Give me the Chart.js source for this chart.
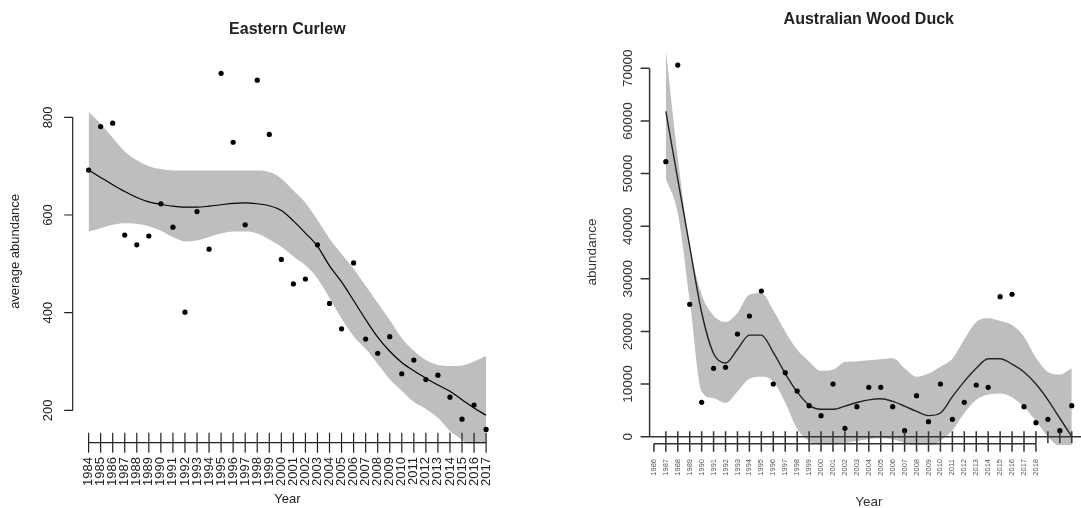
<!DOCTYPE html>
<html>
<head>
<meta charset="utf-8">
<script src="https://cdn.jsdelivr.net/npm/chart.js@4.4.1/dist/chart.umd.min.js"></script>
<style>
  html, body { margin: 0; padding: 0; background: #fff; }
  #wrap { position: relative; width: 1081px; height: 508px; overflow: hidden; }
  #left { position: absolute; left: 0; top: 0; }
  #rightBox { position: absolute; left: 540px; top: 0; width: 541px; height: 508px; overflow: hidden; }
</style>
</head>
<body>
<div id="wrap">
  <canvas id="left" width="540" height="508"></canvas>
  <div id="rightBox"><canvas id="right" width="552" height="508"></canvas></div>
</div>
<script>
// Eastern Curlew (left panel)
const curlewYears = [1984, 1985, 1986, 1987, 1988, 1989, 1990, 1991, 1992, 1993, 1994, 1995,
  1996, 1997, 1998, 1999, 2000, 2001, 2002, 2003, 2004, 2005, 2006, 2007, 2008, 2009, 2010,
  2011, 2012, 2013, 2014, 2015, 2016, 2017];
const curlewAbundance = [692, 781, 788, 559, 539, 557, 623, 575, 401, 607, 530, 890,
  749, 580, 876, 765, 509, 459, 469, 539, 419, 367, 502, 346, 317, 351, 275,
  303, 263, 272, 227, 182, 211, 161];
const curlewTrend = [692, 677, 662, 648, 636, 627, 622, 618, 616, 616, 618, 621,
  624, 625, 623, 619, 609, 588, 563, 536, 496, 463, 425, 386, 350, 321, 298,
  281, 266, 252, 239, 222, 205, 190];
const curlewUpper = [811, 787, 758, 730, 712, 700, 694, 691, 691, 691, 691, 691,
  691, 691, 691, 688, 675, 650, 625, 590, 552, 520, 490, 455, 420, 385, 348,
  322, 303, 293, 291, 292, 300, 312];
const curlewLower = [566, 573, 580, 583, 582, 577, 568, 555, 546, 548, 555, 562,
  566, 566, 562, 550, 535, 515, 497, 470, 430, 388, 352, 326, 295, 264, 240,
  217, 203, 185, 158, 140, 115, 90];
const curlewYTicks = [200, 400, 600, 800];

// Australian Wood Duck (right panel)
const duckYears = [1987, 1988, 1989, 1990, 1991, 1992, 1993, 1994, 1995, 1996, 1997, 1998,
  1999, 2000, 2001, 2002, 2003, 2004, 2005, 2006, 2007, 2008, 2009, 2010, 2011, 2012,
  2013, 2014, 2015, 2016, 2017, 2018, 2019, 2020, 2021];
const duckAbundance = [52250, 70620, 25150, 6530, 12990, 13180, 19510, 22930, 27680, 10010,
  12160, 8680, 5890, 3990, 10010, 1590, 5700, 9380, 9380, 5700, 1140, 7790, 2850, 10010,
  3300, 6530, 9820, 9380, 26600, 27060, 5700, 2660, 3300, 1140, 5890];
const duckTrend = [61800, 48900, 36100, 23600, 15800, 14000, 16600, 19300, 19300, 16000,
  12000, 8500, 6000, 5200, 5200, 5800, 6500, 7000, 7200, 6700, 5800, 4800, 4000, 4500,
  7600, 10500, 13000, 14800, 14800, 13800, 12300, 10000, 7000, 3500, 0];
const duckUpper = [73500, 53000, 36500, 27000, 23000, 21800, 23500, 27000, 27300, 24000,
  20000, 16500, 14300, 12500, 12700, 14200, 14300, 14500, 14700, 14900, 13000, 11400,
  12000, 13300, 14800, 18500, 21800, 22500, 22000, 21200, 19000, 15000, 12300, 11800, 13000];
const duckLower = [49000, 42500, 26000, 8600, 7300, 6400, 8600, 11000, 11400, 10500,
  6500, 1500, -800, -1500, -1500, -1200, -800, -500, -300, -500, -1200, -1800, -2000, -800,
  1200, 4500, 7000, 8000, 8200, 7500, 5600, 3000, 0, -2000, -3000];
const duckLabelYears = [1986, 1987, 1988, 1989, 1990, 1991, 1992, 1993, 1994, 1995, 1996,
  1997, 1998, 1999, 2000, 2001, 2002, 2003, 2004, 2005, 2006, 2007, 2008, 2009, 2010,
  2011, 2012, 2013, 2014, 2015, 2016, 2017, 2018];
const duckYTicks = [0, 10000, 20000, 30000, 40000, 50000, 60000, 70000];

const FONT = '"Liberation Sans", Arial, sans-serif';
const BAND = "#bebebe";

function xy(xs, ys) {
  return xs.map((x, i) => ({ x: x, y: ys[i] }));
}

function vtext(ctx, text, x, y) {
  ctx.save();
  ctx.translate(x, y);
  ctx.rotate(-Math.PI / 2);
  ctx.fillText(text, 0, 0);
  ctx.restore();
}

function datasets(years, obs, trend, upper, lower, lineColor, lineWidth) {
  return [
    {
      data: xy(years, obs), showLine: false, pointRadius: 2.6,
      pointBackgroundColor: "#000", pointBorderColor: "#000", pointBorderWidth: 0, order: 0,
    },
    {
      data: xy(years, trend), borderColor: lineColor, borderWidth: lineWidth,
      pointRadius: 0, cubicInterpolationMode: "monotone", order: 1,
    },
    {
      data: xy(years, upper), borderColor: "rgba(0,0,0,0)", borderWidth: 0, pointRadius: 0,
      fill: "+1", backgroundColor: BAND, cubicInterpolationMode: "monotone", order: 2, clip: 0,
    },
    {
      data: xy(years, lower), borderColor: "rgba(0,0,0,0)", borderWidth: 0, pointRadius: 0,
      fill: false, cubicInterpolationMode: "monotone", order: 3, clip: 0,
    },
  ];
}

function baseOptions(padding, xMin, xMax, yMin, yMax) {
  return {
    responsive: false,
    animation: false,
    events: [],
    layout: { padding: padding },
    scales: {
      x: { type: "linear", min: xMin, max: xMax, display: false },
      y: { type: "linear", min: yMin, max: yMax, display: false },
    },
    plugins: { legend: { display: false }, tooltip: { enabled: false } },
  };
}

const curlewAxes = {
  id: "curlewAxes",
  afterDatasetsDraw(chart) {
    const { ctx, chartArea: a, scales: { x, y } } = chart;
    ctx.save();
    ctx.strokeStyle = "#222";
    ctx.fillStyle = "#222";
    ctx.lineWidth = 1.2;
    ctx.beginPath();
    ctx.moveTo(a.left, y.getPixelForValue(curlewYTicks[0]));
    ctx.lineTo(a.left, y.getPixelForValue(curlewYTicks[curlewYTicks.length - 1]));
    curlewYTicks.forEach(v => {
      const py = y.getPixelForValue(v);
      ctx.moveTo(a.left, py);
      ctx.lineTo(a.left - 8.5, py);
    });
    const base = a.bottom - 1;
    ctx.moveTo(x.getPixelForValue(curlewYears[0]), base);
    ctx.lineTo(x.getPixelForValue(curlewYears[curlewYears.length - 1]), base);
    curlewYears.forEach(yr => {
      const px = x.getPixelForValue(yr);
      ctx.moveTo(px, base - 10);
      ctx.lineTo(px, base + 10);
    });
    ctx.stroke();

    ctx.font = "13px " + FONT;
    ctx.textAlign = "center";
    ctx.textBaseline = "middle";
    curlewYTicks.forEach(v => vtext(ctx, String(v), a.left - 24.5, y.getPixelForValue(v)));
    vtext(ctx, "average abundance", 15, (a.top + a.bottom) / 2);
    ctx.fillText("Year", (a.left + a.right) / 2, 499);

    ctx.textAlign = "right";
    curlewYears.forEach(yr => vtext(ctx, String(yr), x.getPixelForValue(yr), 457));

    ctx.font = "bold 16px " + FONT;
    ctx.textAlign = "center";
    ctx.fillText("Eastern Curlew", (a.left + a.right) / 2, 30);
    ctx.restore();
  },
};

const duckAxes = {
  id: "duckAxes",
  afterDatasetsDraw(chart) {
    const { ctx, chartArea: a, scales: { x, y } } = chart;
    ctx.save();
    ctx.strokeStyle = "#333";
    ctx.fillStyle = "#333";
    ctx.lineWidth = 1.5;
    const y0 = y.getPixelForValue(0);
    ctx.beginPath();
    ctx.moveTo(a.left, y.getPixelForValue(duckYTicks[0]));
    ctx.lineTo(a.left, y.getPixelForValue(duckYTicks[duckYTicks.length - 1]));
    duckYTicks.forEach(v => {
      const py = y.getPixelForValue(v);
      ctx.moveTo(a.left, py);
      ctx.lineTo(a.left - 9, py);
    });
    // zero line with ticks at every survey year
    ctx.moveTo(a.left, y0);
    ctx.lineTo(a.right, y0);
    duckYears.forEach(yr => {
      const px = x.getPixelForValue(yr);
      ctx.moveTo(px, y0 - 5.5);
      ctx.lineTo(px, y0 + 6.5);
    });
    // second (labelled) year axis just below
    const low = y0 + 7;
    ctx.moveTo(x.getPixelForValue(duckLabelYears[0]), low);
    ctx.lineTo(x.getPixelForValue(duckLabelYears[duckLabelYears.length - 1]), low);
    duckLabelYears.forEach(yr => {
      const px = x.getPixelForValue(yr);
      ctx.moveTo(px, low);
      ctx.lineTo(px, low + 8);
    });
    ctx.stroke();

    ctx.font = "13.5px " + FONT;
    ctx.textAlign = "center";
    ctx.textBaseline = "middle";
    duckYTicks.forEach(v => vtext(ctx, String(v), a.left - 21, y.getPixelForValue(v)));
    vtext(ctx, "abundance", 52, 252);
    ctx.fillText("Year", (a.left + a.right) / 2, 502);

    ctx.fillStyle = "#555";
    ctx.font = "7.5px " + FONT;
    ctx.textAlign = "right";
    duckLabelYears.forEach(yr => vtext(ctx, String(yr), x.getPixelForValue(yr), 459));

    ctx.fillStyle = "#222";
    ctx.font = "bold 16px " + FONT;
    ctx.textAlign = "center";
    ctx.fillText("Australian Wood Duck", (a.left + a.right) / 2, 20);
    ctx.restore();
  },
};

new Chart(document.getElementById("left"), {
  type: "line",
  data: { datasets: datasets(curlewYears, curlewAbundance, curlewTrend, curlewUpper, curlewLower, "#000", 1.2) },
  options: baseOptions({ left: 72.7, top: 59.1, right: 38, bottom: 64.3 }, 1982.68, 2018.32, 131.8, 919.2),
  plugins: [curlewAxes],
});

new Chart(document.getElementById("right"), {
  type: "line",
  data: { datasets: datasets(duckYears, duckAbundance, duckTrend, duckUpper, duckLower, "#222", 1.4) },
  options: baseOptions({ left: 109.6, top: 50.4, right: 0, bottom: 62.7 }, 1985.64, 2022.36, -1640, 73400),
  plugins: [duckAxes],
});
</script>
</body>
</html>
